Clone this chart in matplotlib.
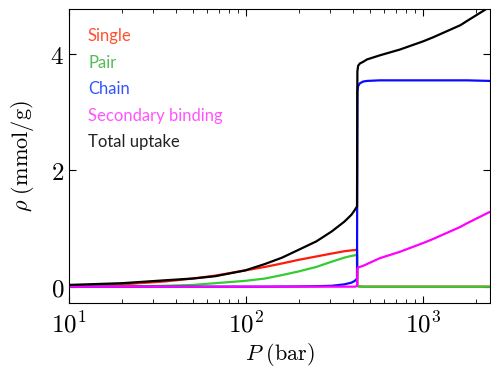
import matplotlib
matplotlib.use("Agg")
import matplotlib.pyplot as plt
from matplotlib.ticker import LogLocator, NullFormatter, FixedLocator, FixedFormatter

plt.rcParams['mathtext.fontset'] = 'cm'

# ---- data ----
P_low = [10, 20, 35, 50, 67, 99, 128, 160, 197, 250, 305, 360, 395, 412, 424]
single_low = [0.01, 0.04, 0.09, 0.14, 0.19, 0.28, 0.34, 0.40, 0.46, 0.52, 0.57, 0.61, 0.625, 0.63, 0.64]
pair_low = [0.0, 0.005, 0.015, 0.03, 0.06, 0.10, 0.14, 0.20, 0.26, 0.34, 0.43, 0.50, 0.53, 0.54, 0.55]
chain_low = [0.0, 0.0, 0.0, 0.0, 0.0, 0.0, 0.0, 0.002, 0.004, 0.008, 0.015, 0.04, 0.07, 0.10, 0.14]
sec_low = [0.0, 0.0, 0.0, 0.0, 0.0, 0.0, 0.0, 0.0, 0.0, 0.0, 0.0, 0.0, 0.0, 0.0, 0.01]
total_low = [0.03, 0.06, 0.11, 0.14, 0.18, 0.28, 0.39, 0.50, 0.63, 0.78, 0.95, 1.12, 1.24, 1.32, 1.38]

P_high = [426, 430, 440, 460, 483, 570, 741, 1000, 1140, 1630, 1770, 2400, 2450]
single_high = [0.02, 0.01, 0.005, 0.0, 0.0, 0.0, 0.0, 0.0, 0.0, 0.0, 0.0, 0.0, 0.0]
pair_high = [0.01, 0.005, 0.0, 0.0, 0.0, 0.0, 0.0, 0.0, 0.0, 0.0, 0.0, 0.0, 0.0]
chain_high = [3.35, 3.45, 3.50, 3.53, 3.54, 3.55, 3.55, 3.55, 3.55, 3.55, 3.55, 3.54, 3.54]
sec_high = [0.30, 0.33, 0.34, 0.36, 0.39, 0.49, 0.60, 0.75, 0.82, 1.03, 1.09, 1.29, 1.31]
total_high = [3.70, 3.80, 3.84, 3.87, 3.91, 3.98, 4.08, 4.22, 4.29, 4.50, 4.57, 4.82, 4.85]

labels = ["Single", "Pair", "Chain", "Secondary binding", "Total uptake"]
line_colors = ["#ff1a0a", "#33cc33", "#0a0aff", "#ff00ff", "#000000"]
text_colors = ["#ff5030", "#55bb55", "#3355ff", "#ff55ff", "#222222"]
xtick_vals = [10, 100, 1000]
xtick_labels = [r'$10^{1}$', r'$10^{2}$', r'$10^{3}$']
ytick_vals = [0, 2, 4]
ytick_labels = [r'$0$', r'$2$', r'$4$']

series = [
    (single_low, single_high),
    (pair_low, pair_high),
    (chain_low, chain_high),
    (sec_low, sec_high),
    (total_low, total_high),
]

fig = plt.figure(figsize=(4.91, 3.69), dpi=100)
ax = fig.add_axes([0.1405, 0.179, 0.858, 0.797])

for (lo, hi), c in zip(series, line_colors):
    ax.plot(P_low + P_high, lo + hi, color=c, lw=1.6)

ax.set_xscale('log')
ax.set_xlim(10, 2400)
ax.set_ylim(-0.28, 4.78)
ax.xaxis.set_major_locator(FixedLocator(xtick_vals))
ax.xaxis.set_major_formatter(FixedFormatter(xtick_labels))
ax.xaxis.set_minor_locator(LogLocator(base=10, subs=range(2, 10)))
ax.xaxis.set_minor_formatter(NullFormatter())
ax.yaxis.set_major_locator(FixedLocator(ytick_vals))
ax.yaxis.set_major_formatter(FixedFormatter(ytick_labels))
ax.tick_params(which='both', direction='in', top=True, right=True, labelsize=18)
ax.tick_params(which='major', length=5, width=0.8)
ax.tick_params(which='minor', length=3, width=0.6)
ax.tick_params(axis='x', pad=6)
for sp in ax.spines.values():
    sp.set_linewidth(0.8)

ax.set_xlabel(r'$P\ (\mathrm{bar})$', fontsize=16, labelpad=3)
ax.set_ylabel(r'$\rho\ (\mathrm{mmol/g})$', fontsize=16, labelpad=10)

for i, (lab, tc) in enumerate(zip(labels, text_colors)):
    fig.text(88 / 491, 1 - (36 + 26.5 * i) / 369, lab, color=tc, fontsize=12,
             family='Lato', va='center', ha='left')

fig.savefig("out.png", dpi=100)
